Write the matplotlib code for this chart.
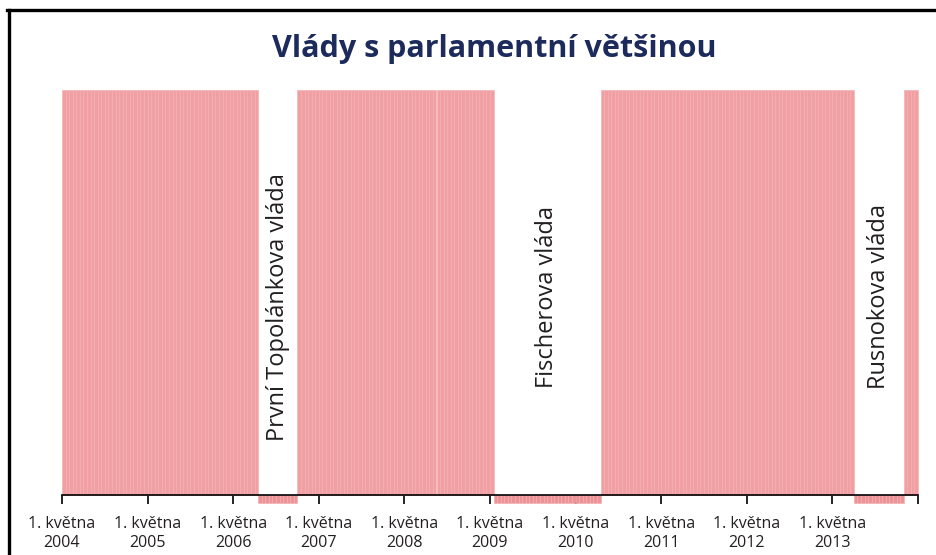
import matplotlib.pyplot as plt
import numpy as np
from matplotlib.lines import Line2D

# half-month periods starting 1 May 2004
segment_lengths = [55, 11, 55, 30, 71, 14, 4]
segment_values = [1, -0.02, 1, -0.02, 1, -0.02, 1]
years = ['2004', '2005', '2006', '2007', '2008', '2009', '2010', '2011', '2012', '2013']
minority_names = ['První Topolánkova vláda', 'Fischerova vláda', 'Rusnokova vláda']
title = 'Vlády s parlamentní většinou'

values = np.repeat(segment_values, segment_lengths)
n = len(values)

plt.rcParams['font.family'] = ['Open Sans', 'DejaVu Sans']

fig = plt.figure(figsize=(9.36, 5.55), dpi=100)
fig.patch.set_facecolor('white')
ax = fig.add_axes([62 / 936, 60 / 555, 856 / 936, 405 / 555])
ax.set_facecolor('none')

x = np.arange(n)
colors = np.where(values > 0, '#f0a0a3', '#ec9397')
ax.bar(x, values, width=1.0, align='edge', color=colors,
       edgecolor='#f4adb0', linewidth=0.4, clip_on=False, zorder=2)

ax.set_xlim(0, n)
ax.set_ylim(0, 1)
for side in ['top', 'right', 'left']:
    ax.spines[side].set_visible(False)
ax.spines['bottom'].set_color('black')
ax.spines['bottom'].set_linewidth(1.2)
ax.spines['bottom'].set_zorder(3)
ax.set_yticks([])

ticks = np.arange(0, n + 1, 24)
labels = ['1. května\n' + y for y in years] + ['']
ax.set_xticks(ticks)
ax.set_xticklabels(labels, fontsize=11.5, color='#231f20', linespacing=1.3)
ax.tick_params(axis='x', direction='out', length=6.5, width=1.2, pad=8.5, color='black')

# labels for minority governments, centred in their gaps
bounds = np.cumsum([0] + segment_lengths)
gap_idx = [1, 3, 5]
label_y = [0.465, 0.49, 0.49]
for name, gi, ly in zip(minority_names, gap_idx, label_y):
    xc = (bounds[gi] + bounds[gi + 1]) / 2
    ax.text(xc, ly, name, rotation=90, ha='center', va='center',
            fontsize=17, color='#231f20')

fig.text(0.528, 0.912, title, ha='center', va='center', fontsize=22,
         fontweight='bold', color='#1c2b5b')

# frame (only top and left edges visible)
fig.add_artist(Line2D([8.5 / 936, 8.5 / 936], [0, 1 - 9.5 / 555], color='black',
                      linewidth=2.4, transform=fig.transFigure))
fig.add_artist(Line2D([7.3 / 936, 1], [1 - 9.5 / 555, 1 - 9.5 / 555], color='black',
                      linewidth=2.4, transform=fig.transFigure))

fig.savefig('out.png', dpi=100)
